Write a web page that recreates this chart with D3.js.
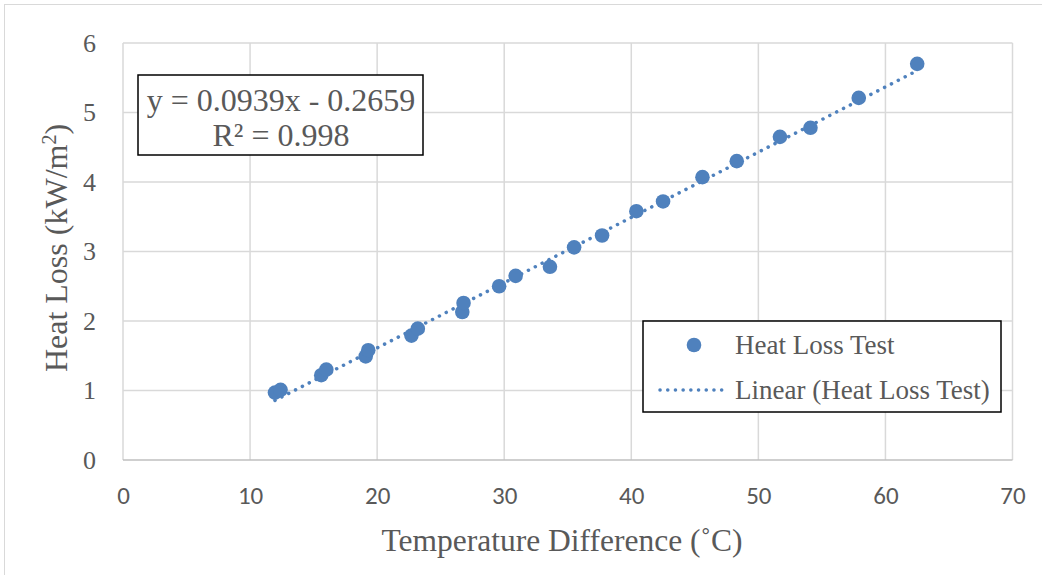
<!DOCTYPE html>
<html><head><meta charset="utf-8">
<script src="https://cdn.jsdelivr.net/npm/d3@7"></script>
<style>body{margin:0;background:#fff}svg{display:block}</style>
</head><body>
<svg id="c" width="1042" height="575"></svg>
<script>
const tempDiff = [11.96, 12.4, 15.6, 16.0, 19.1, 19.3, 22.7, 23.2, 26.7, 26.8, 29.6, 30.9, 33.6, 35.5, 37.7, 40.4, 42.5, 45.6, 48.3, 51.7, 54.1, 57.9, 62.5];
const heatLoss = [0.97, 1.01, 1.22, 1.30, 1.49, 1.58, 1.79, 1.89, 2.13, 2.26, 2.50, 2.65, 2.78, 3.06, 3.23, 3.58, 3.72, 4.07, 4.30, 4.65, 4.78, 5.21, 5.70];
const xTicks = [0, 10, 20, 30, 40, 50, 60, 70];
const yTicks = [0, 1, 2, 3, 4, 5, 6];
const trendSlope = 0.0939, trendIntercept = -0.2659, trendR2 = 0.998;
const seriesName = "Heat Loss Test";

const svg = d3.select("#c");
const col = "#4F81BD", txt = "#595959", grid = "#D9D9D9";
const serif = "'Liberation Serif','Times New Roman',serif";
const sans = "Carlito,'Open Sans','Liberation Sans',sans-serif";

// outer chart border
svg.append("rect").attr("x",4.5).attr("y",4.5).attr("width",1045).attr("height",580)
  .attr("fill","none").attr("stroke","#D9D9D9").attr("stroke-width",1);

const x = d3.scaleLinear().domain([0,70]).range([123,1012.5]);
const y = d3.scaleLinear().domain([0,6]).range([460,43]);

const g = svg.append("g");
g.selectAll(".vg").data(xTicks).join("line")
  .attr("x1",d=>x(d)).attr("x2",d=>x(d)).attr("y1",y(0)).attr("y2",y(6))
  .attr("stroke",grid).attr("stroke-width",1.5);
g.selectAll(".hg").data(yTicks).join("line")
  .attr("x1",x(0)).attr("x2",x(70)).attr("y1",d=>y(d)).attr("y2",d=>y(d))
  .attr("stroke",d=>d===0?"#BFBFBF":grid).attr("stroke-width",1.5);

// axes tick labels via d3 axes
const xAxis = svg.append("g").attr("transform",`translate(0,${y(0)})`)
  .call(d3.axisBottom(x).tickValues(xTicks).tickSize(0).tickPadding(26).tickFormat(d3.format("d")));
xAxis.select(".domain").remove();
xAxis.selectAll("text").attr("fill",txt).attr("font-family",sans).attr("font-size",25);

const yAxis = svg.append("g").attr("transform",`translate(${x(0)},0)`)
  .call(d3.axisLeft(y).tickValues(yTicks).tickSize(0).tickPadding(27).tickFormat(d3.format("d")));
yAxis.select(".domain").remove();
yAxis.selectAll("text").attr("fill",txt).attr("font-family",serif).attr("font-size",26);

// trendline
const xMin = d3.min(tempDiff), xMax = d3.max(tempDiff);
svg.append("line")
  .attr("x1",x(xMin)).attr("y1",y(trendSlope*xMin+trendIntercept))
  .attr("x2",x(xMax)).attr("y2",y(trendSlope*xMax+trendIntercept))
  .attr("stroke",col).attr("stroke-width",3.5).attr("stroke-linecap","round")
  .attr("stroke-dasharray","0.1 7.6");

// points
svg.selectAll(".pt").data(tempDiff).join("circle")
  .attr("cx",d=>x(d)).attr("cy",(d,i)=>y(heatLoss[i])).attr("r",7.3).attr("fill",col);

// axis titles
svg.append("text").attr("x",562).attr("y",551).attr("text-anchor","middle")
  .attr("font-family",serif).attr("font-size",31.5).attr("fill",txt)
  .text("Temperature Difference (˚C)");
const yt = svg.append("text").attr("transform","translate(67,248) rotate(-90)").attr("text-anchor","middle")
  .attr("font-family",serif).attr("font-size",32).attr("fill",txt);
yt.append("tspan").text("Heat Loss (kW/m");
yt.append("tspan").attr("dy",-11).attr("font-size",20).text("2");
yt.append("tspan").attr("dy",11).text(")");

// equation box
svg.append("rect").attr("x",138).attr("y",75).attr("width",285).attr("height",80)
  .attr("fill","#fff").attr("stroke","#000").attr("stroke-width",1.5);
svg.append("text").attr("x",281).attr("y",111).attr("text-anchor","middle")
  .attr("font-family",serif).attr("font-size",32).attr("fill",txt)
  .text(`y = ${trendSlope}x - ${Math.abs(trendIntercept)}`);
svg.append("text").attr("x",281).attr("y",146).attr("text-anchor","middle")
  .attr("font-family",serif).attr("font-size",32).attr("fill",txt)
  .text(`R² = ${trendR2}`);

// legend
svg.append("rect").attr("x",643).attr("y",321).attr("width",358).attr("height",91)
  .attr("fill","#fff").attr("stroke","#000").attr("stroke-width",1.5);
svg.append("circle").attr("cx",694).attr("cy",345).attr("r",7.3).attr("fill",col);
svg.append("line").attr("x1",660).attr("x2",722).attr("y1",390).attr("y2",390)
  .attr("stroke",col).attr("stroke-width",3.5).attr("stroke-linecap","round").attr("stroke-dasharray","0.1 7.6");
svg.append("text").attr("x",735).attr("y",354).attr("font-family",serif).attr("font-size",27).attr("fill",txt).text(seriesName);
svg.append("text").attr("x",735).attr("y",399).attr("font-family",serif).attr("font-size",27).attr("fill",txt).text(`Linear (${seriesName})`);
</script>
</body></html>
